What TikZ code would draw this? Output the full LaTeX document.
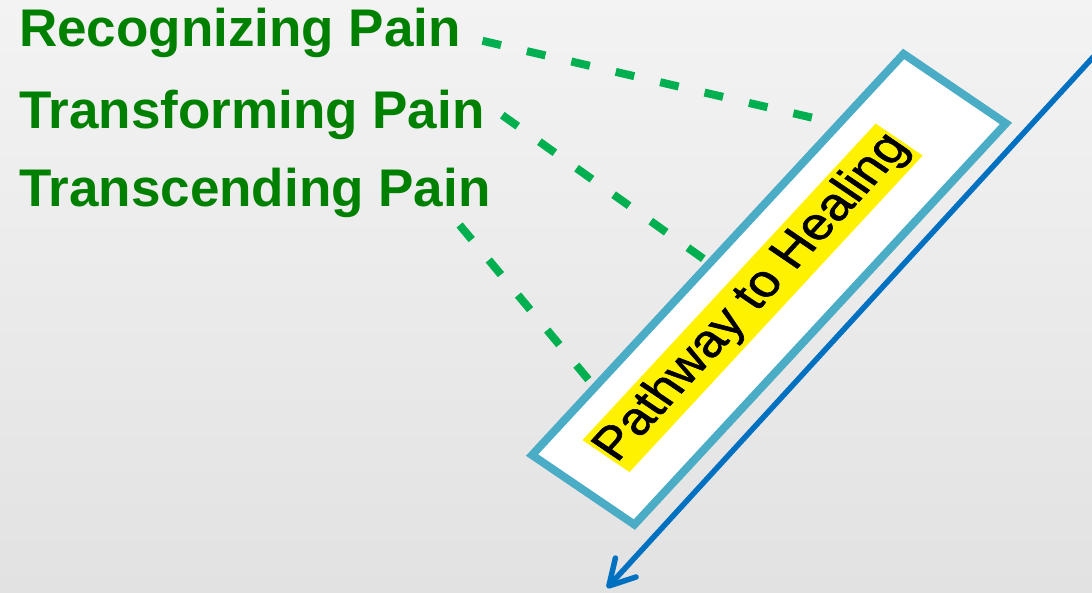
\documentclass[tikz,border=0pt]{standalone}
\usepackage{fontspec}
\setmainfont{Liberation Sans}
\newfontfamily\boxfont[FakeBold=1.2]{Liberation Sans}
\usetikzlibrary{arrows.meta}
\definecolor{txtgreen}{RGB}{0,128,0}
\definecolor{dashgreen}{RGB}{0,176,80}
\definecolor{boxblue}{RGB}{75,172,198}
\definecolor{arrowblue}{RGB}{0,112,192}
\definecolor{bgtop}{RGB}{243,243,243}
\definecolor{bgbot}{RGB}{226,226,226}
\begin{document}
\begin{tikzpicture}[x=1pt,y=1pt,
  title/.style={anchor=base west, inner sep=0pt, text=txtgreen, font=\fontsize{53}{60}\selectfont\bfseries},
  link/.style={draw=dashgreen, line width=8pt, dash pattern=on 19pt off 26.6pt},
  pathbox/.style={draw=boxblue, line width=8pt, fill=white, minimum width=546pt, minimum height=123pt, inner sep=0pt, transform shape},
  highlight/.style={fill=yellow, inner sep=0pt, minimum width=429pt, minimum height=56.5pt, font=\boxfont\fontsize{50}{50}\selectfont, transform shape},
  flow/.style={draw=arrowblue, line width=5.5pt, -{Straight Barb[length=25pt,width=28pt,round]}}]
\clip (0,0) rectangle (1092,593);
\shade[top color=bgtop, bottom color=bgbot] (0,0) rectangle (1092,593);
\node[title] (t1) at (19,546.3) {Recognizing Pain};
\node[title] (t2) at (19,464.7) {Transforming Pain};
\node[title] (t3) at (19,386.3) {Transcending Pain};
\begin{scope}[cm={0.6805,0.7347,-0.832,0.565,(769pt,303.75pt)}]
  \node[pathbox] (box) at (0,0) {};
  \node[highlight] (lbl) at (-16.5,6.25) {Pathway to Healing};
\end{scope}
\coordinate (s1) at (482.5,552.2);
\coordinate (e1) at (812.2,475.3);
\coordinate (s2) at (502.3,477.8);
\coordinate (e2) at (704.4,333.5);
\coordinate (s3) at (459.6,368);
\coordinate (e3) at (588.4,213.4);
\draw[link] (s1) -- (e1);
\draw[link] (s2) -- (e2);
\draw[link] (s3) -- (e3);
\coordinate (a0) at (1100,543.4);
\coordinate (a1) at (607,5);
\draw[flow] (a0) -- (a1);
\end{tikzpicture}
\end{document}
